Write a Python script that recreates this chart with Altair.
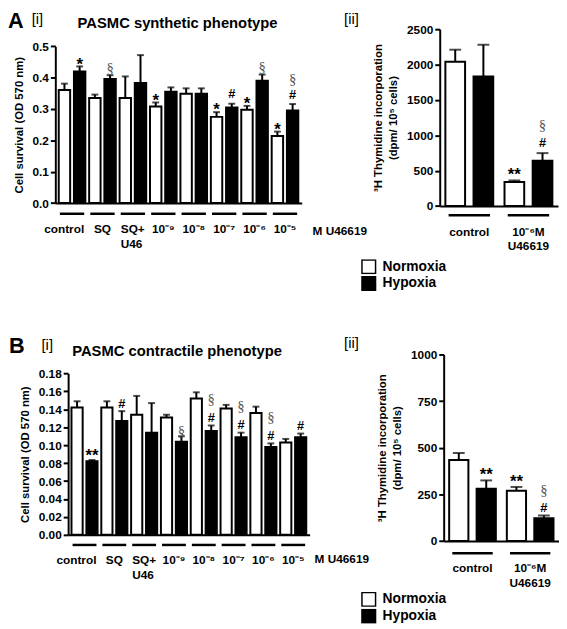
import altair as alt
import pandas as pd

FONT = "Liberation Sans"
SERIF = "Liberation Serif"
CONDS = ["Normoxia", "Hypoxia"]

# ---------------- data ----------------
# A [i] synthetic phenotype, cell survival (OD 570 nm)
ai_groups = ["control", "SQ", "SQ+\nU46", "10⁻⁹", "10⁻⁸", "10⁻⁷", "10⁻⁶", "10⁻⁵"]
ai_norm = [0.361, 0.335, 0.335, 0.308, 0.349, 0.275, 0.298, 0.214]
ai_norm_err = [0.020, 0.011, 0.069, 0.013, 0.017, 0.015, 0.012, 0.014]
ai_hyp = [0.420, 0.396, 0.383, 0.355, 0.349, 0.305, 0.390, 0.295]
ai_hyp_err = [0.016, 0.012, 0.089, 0.014, 0.017, 0.012, 0.020, 0.021]
ai_norm_sig = ["", "", "", "*", "", "*", "*", "*"]
ai_hyp_sig = ["*", "§", "", "", "", "#", "§", "§#"]

# A [ii] synthetic phenotype, 3H thymidine incorporation
aii_groups = ["control", "10⁻⁶M\nU46619"]
aii_norm = [2040, 340]
aii_norm_err = [170, 22]
aii_hyp = [1830, 640]
aii_hyp_err = [450, 108]
aii_norm_sig = ["", "**"]
aii_hyp_sig = ["", "§#"]

# B [i] contractile phenotype, cell survival
bi_groups = ai_groups
bi_norm = [0.142, 0.142, 0.134, 0.131, 0.152, 0.141, 0.136, 0.103]
bi_norm_err = [0.007, 0.007, 0.021, 0.003, 0.007, 0.004, 0.007, 0.004]
bi_hyp = [0.082, 0.127, 0.114, 0.104, 0.116, 0.109, 0.098, 0.109]
bi_hyp_err = [0.0015, 0.011, 0.033, 0.006, 0.006, 0.005, 0.004, 0.004]
bi_norm_sig = ["", "", "", "", "", "", "", ""]
bi_hyp_sig = ["**", "#", "", "§", "§#", "§#", "§#", "#"]

# B [ii] contractile phenotype, 3H thymidine incorporation
bii_groups = aii_groups
bii_norm = [435, 270]
bii_norm_err = [37, 20]
bii_hyp = [281, 123]
bii_hyp_err = [44, 14]
bii_norm_sig = ["", "**"]
bii_hyp_sig = ["**", "§#"]


def build(groups, norm, norm_err, hyp, hyp_err, norm_sig, hyp_sig):
    rows = []
    for i, g in enumerate(groups):
        for cond, v, e, s in (("Normoxia", norm[i], norm_err[i], norm_sig[i]),
                              ("Hypoxia", hyp[i], hyp_err[i], hyp_sig[i])):
            rows.append({"group": g, "cond": cond, "value": v, "upper": v + e,
                         "star": s.replace("§", "").replace("#", ""),
                         "hash": "#" in s, "sect": "§" in s})
    return pd.DataFrame(rows)


def note(text, x, y, size, weight="bold", align="left", font=FONT, color="black"):
    return alt.Chart(pd.DataFrame({"t": [text]})).mark_text(
        font=font, fontSize=size, fontWeight=weight, align=align,
        baseline="middle", color=color
    ).encode(x=alt.value(x), y=alt.value(y), text="t:N")


def panel(df, groups, *, width, height, ydom, yticks, yfmt, ytitle, yrange,
          xrange, xpad_outer, off_pi, off_po, y_off, title_pad, cap,
          line_y, line_band, lab_top, star_c, hash_c, sect_c1, sect_c2,
          legend, notes, special_labels):
    xs = dict(domain=groups, paddingInner=0, paddingOuter=xpad_outer)
    if xrange is not None:
        xs["range"] = xrange
    X = alt.X("group:N", scale=alt.Scale(**xs),
              axis=alt.Axis(labels=False, ticks=False, title=None))
    XO = alt.XOffset("cond:N", scale=alt.Scale(domain=CONDS, paddingInner=off_pi,
                                               paddingOuter=off_po))
    ysc = dict(domain=ydom, nice=False, zero=True)
    if yrange is not None:
        ysc["range"] = yrange
    yaxis = alt.Axis(values=yticks, format=yfmt, title=ytitle, offset=y_off,
                     titlePadding=title_pad, grid=False)

    def Y(field):
        return alt.Y(field, scale=alt.Scale(**ysc), axis=yaxis)

    base = alt.Chart(df)
    color = alt.Color("cond:N", scale=alt.Scale(domain=CONDS, range=["white", "black"]),
                      legend=legend)
    bars = base.mark_bar(stroke="black", strokeWidth=2).encode(
        x=X, xOffset=XO, y=Y("value:Q"), color=color)
    rule = base.mark_rule(color="black", strokeWidth=2).encode(
        x=X, xOffset=XO, y=Y("value:Q"), y2="upper:Q")
    tick = base.mark_tick(color="black", thickness=2, size=cap, orient="horizontal").encode(
        x=X, xOffset=XO, y=Y("upper:Q"))
    stars = base.transform_filter("datum.star != ''").mark_text(
        font=FONT, fontWeight="bold", fontSize=17, color="black",
        dy=-(star_c - 0.57 * 17)).encode(x=X, xOffset=XO, y=Y("upper:Q"), text="star:N")
    hashes = base.transform_filter("datum.hash").mark_text(
        font=FONT, fontWeight="bold", fontSize=13, color="black",
        dy=-(hash_c - 0.35 * 13)).encode(x=X, xOffset=XO, y=Y("upper:Q"), text=alt.value("#"))
    sect1 = base.transform_filter("datum.sect && !datum.hash").mark_text(
        font=SERIF, fontSize=15, color="#555555",
        dy=-(sect_c1 - 0.28 * 15)).encode(x=X, xOffset=XO, y=Y("upper:Q"), text=alt.value("§"))
    sect2 = base.transform_filter("datum.sect && datum.hash").mark_text(
        font=SERIF, fontSize=15, color="#555555",
        dy=-(sect_c2 - 0.28 * 15)).encode(x=X, xOffset=XO, y=Y("upper:Q"), text=alt.value("§"))

    gdf = pd.DataFrame({"group": groups})
    under = alt.Chart(gdf).mark_bar(color="black", width=alt.RelativeBandSize(line_band)).encode(
        x=X, y=alt.value(line_y), y2=alt.value(line_y + 2.5))
    lab_kw = dict(font=FONT, fontWeight="bold", fontSize=12, baseline="top",
                  lineBreak="\n", lineHeight=15, color="black")
    lab_enc = dict(x=X, y=alt.value(lab_top), text="group:N")
    label_layers = []
    if special_labels:
        half = special_labels
        label_layers.append(alt.Chart(gdf).transform_filter(
            "datum.group != 'control' && indexof(datum.group, 'SQ+') != 0"
        ).mark_text(align="center", **lab_kw).encode(**lab_enc))
        label_layers.append(alt.Chart(gdf).transform_filter(
            "datum.group == 'control'").mark_text(align="right", dx=half, **lab_kw).encode(**lab_enc))
        label_layers.append(alt.Chart(gdf).transform_filter(
            "indexof(datum.group, 'SQ+') == 0").mark_text(align="left", dx=-half, **lab_kw).encode(**lab_enc))
    else:
        label_layers.append(alt.Chart(gdf).mark_text(align="center", **lab_kw).encode(**lab_enc))
    layers = [bars, rule, tick, stars, hashes, sect1, sect2, under] + label_layers + notes
    return alt.layer(*layers).properties(width=width, height=height)


dfa1 = build(ai_groups, ai_norm, ai_norm_err, ai_hyp, ai_hyp_err, ai_norm_sig, ai_hyp_sig)
dfa2 = build(aii_groups, aii_norm, aii_norm_err, aii_hyp, aii_hyp_err, aii_norm_sig, aii_hyp_sig)
dfb1 = build(bi_groups, bi_norm, bi_norm_err, bi_hyp, bi_hyp_err, bi_norm_sig, bi_hyp_sig)
dfb2 = build(bii_groups, bii_norm, bii_norm_err, bii_hyp, bii_hyp_err, bii_norm_sig, bii_hyp_sig)


def legend_at(x, y):
    return alt.Legend(orient="none", legendX=x, legendY=y, title=None, symbolType="square",
                      symbolSize=190, symbolStrokeColor="black", symbolStrokeWidth=1.5,
                      symbolOpacity=1, labelFont=FONT, labelFontWeight="bold",
                      labelFontSize=14, labelColor="black", rowPadding=2, labelOffset=6,
                      clipHeight=15, padding=0)


ai = panel(dfa1, ai_groups, width=250, height=176.4, ydom=[0, 0.5],
           yticks=[0, 0.1, 0.2, 0.3, 0.4, 0.5], yfmt=".1f",
           ytitle="Cell survival (OD 570 nm)", yrange=[176.4, 17.4],
           xrange=None, xpad_outer=0.05, off_pi=0.25, off_po=0.125, y_off=0,
           title_pad=8, cap=7, line_y=186, line_band=0.8, lab_top=198,
           star_c=11.5, hash_c=14, sect_c1=11.5, sect_c2=29.5, legend=None,
           special_labels=12.3,
           notes=[note("A", -48, -8.3, 22),
                  note("[i]", -24, -10, 15, weight="normal"),
                  note("PASMC synthetic phenotype", 124, -6.3, 15, align="center"),
                  note("M  U46619", 261, 204.5, 12)])

aii = panel(dfa2, aii_groups, width=120, height=179.4, ydom=[0, 2500],
            yticks=[0, 500, 1000, 1500, 2000, 2500], yfmt="d",
            ytitle=["³H Thymidine incorporation", "(dpm/ 10⁵ cells)"], yrange=None,
            xrange=None, xpad_outer=0, off_pi=0.3, off_po=0.2, y_off=0,
            title_pad=8, cap=12, line_y=187.5, line_band=0.7, lab_top=200.5,
            star_c=15, hash_c=15, sect_c1=11, sect_c2=33,
            legend=legend_at(-80, 233.5), special_labels=0,
            notes=[note("[ii]", -97, -10.3, 15, weight="normal")])

bi = panel(dfb1, bi_groups, width=258, height=183, ydom=[0, 0.18],
           yticks=[0, 0.02, 0.04, 0.06, 0.08, 0.10, 0.12, 0.14, 0.16, 0.18], yfmt=".2f",
           ytitle="Cell survival (OD 570 nm)", yrange=[183, 19.3],
           xrange=[13, 258], xpad_outer=0.05, off_pi=0.25, off_po=0.125, y_off=-13,
           title_pad=8, cap=7, line_y=192, line_band=0.8, lab_top=203.5,
           star_c=13.5, hash_c=12, sect_c1=9, sect_c2=31, legend=None,
           special_labels=12.1,
           notes=[note("B", -47, -8, 22),
                  note("[i]", -14, -10, 15, weight="normal"),
                  note("PASMC contractile phenotype", 123.5, -3, 15, align="center"),
                  note("M  U46619", 263, 208, 12)])

bii = panel(dfb2, bii_groups, width=121, height=189.3, ydom=[0, 1000],
            yticks=[0, 250, 500, 750, 1000], yfmt="d",
            ytitle=["³H Thymidine incorporation", "(dpm/ 10⁵ cells)"], yrange=None,
            xrange=[4, 121], xpad_outer=0, off_pi=0.3, off_po=0.2, y_off=-4,
            title_pad=8, cap=12, line_y=200.5, line_band=0.7, lab_top=211.5,
            star_c=15, hash_c=12, sect_c1=11, sect_c2=30,
            legend=legend_at(-80, 241), special_labels=0,
            notes=[note("[ii]", -97, -12, 15, weight="normal")])

chart = alt.concat(ai, aii, bi, bii, columns=2,
                   spacing={"row": 140, "column": 132},
                   bounds="flush", align="all").resolve_scale(
    color="independent", xOffset="independent"
).properties(padding={"left": 0, "top": -3, "right": 0, "bottom": 0}).configure_view(
    stroke=None
).configure_axis(
    labelFont=FONT, labelFontWeight="bold", labelFontSize=12, labelColor="black",
    titleFont=FONT, titleFontWeight="bold", titleFontSize=11.5, titleColor="black",
    titleLineHeight=15,
    domainColor="black", domainWidth=2, tickColor="black", tickWidth=2, tickSize=5,
    labelPadding=2
)

chart.save("out.html", embed_options={"renderer": "svg", "actions": False})
